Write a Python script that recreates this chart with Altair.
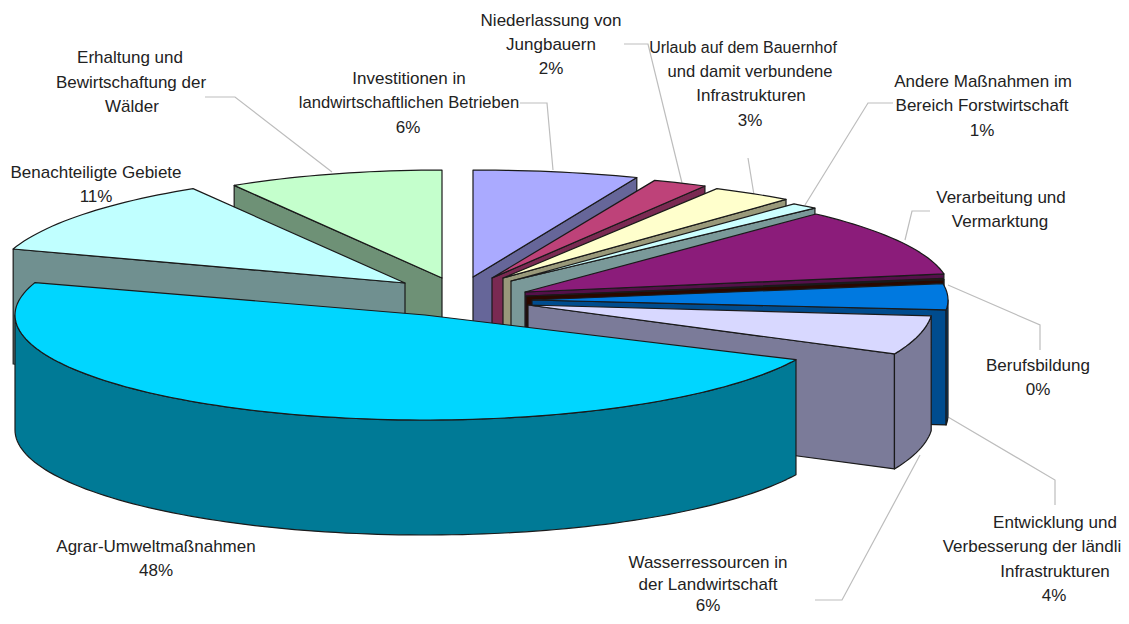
import math
import altair as alt
import pandas as pd

# ---- data ----
slices = ["Investitionen", "Niederlassung", "Urlaub", "Andere Forst", "Verarbeitung", "Berufsbildung",
          "Entwicklung", "Wasserressourcen", "Agrar-Umwelt", "Benachteiligte", "Erhaltung"]
values = [6, 2, 3, 1, 10.3, 0.2, 4, 5.5, 48, 11.4, 8.6]

top_colors = ["#AAAAFF", "#BE4279", "#FFFFCC", "#CCFFFF", "#8B1C7A", "#5A1208",
              "#0079E0", "#D8D8FF", "#00D6FF", "#C0FFFF", "#C4FFCC"]
side_colors = ["#666699", "#7A2A52", "#99997A", "#7A9999", "#54104A", "#2A0800",
               "#004C8E", "#7B7B99", "#007A96", "#709090", "#6E9176"]

label_lines = ["Niederlassung von", "Jungbauern", "2%",
               "Urlaub auf dem Bauernhof", "und damit verbundene", "Infrastrukturen", "3%",
               "Investitionen in", "landwirtschaftlichen Betrieben", "6%",
               "Erhaltung und", "Bewirtschaftung der", "Wälder",
               "Andere Maßnahmen im", "Bereich Forstwirtschaft", "1%",
               "Benachteiligte Gebiete", "11%",
               "Verarbeitung und", "Vermarktung",
               "Berufsbildung", "0%",
               "Entwicklung und", "Verbesserung der ländli", "Infrastrukturen", "4%",
               "Agrar-Umweltmaßnahmen", "48%",
               "Wasserressourcen in", "der Landwirtschaft", "6%"]

# ---- layout (page pixels) ----
OFFSET = 8
DEPTH = 115
apex_x = [473, 492, 503, 511, 525, 526, 532, 528, 425, 405, 442]
apex_y = [277, 278, 278, 281, 292, 296, 300, 305, 315, 283, 278]
radius_a = [445, 442, 444, 444, 425, 423, 416, 405, 410, 412, 404]
radius_b = [107, 105, 102, 100, 107, 105, 105, 115, 105, 110, 108]

label_x = [551, 551, 551,
           743, 750, 751, 750,
           409, 409, 408,
           130, 131, 132,
           983, 982, 982,
           96, 96,
           1001, 1000,
           1038, 1038,
           1055, 1032, 1055, 1054,
           156, 156,
           708, 708, 708]
label_y = [21, 45, 69,
           48, 72, 96, 121,
           79, 103, 128,
           58, 83, 107,
           82, 106, 131,
           173, 197,
           198, 222,
           366, 390,
           523, 547, 572, 596,
           547, 571,
           563, 585, 606]
label_size = [17, 17, 17,
              16, 16.6, 17, 17,
              17, 16.6, 17,
              17, 17, 17,
              17, 17, 17,
              17, 17,
              17, 17,
              17, 17,
              17, 17, 17, 17,
              17, 17,
              17, 17, 17]

leader_x = [[205, 235, 332], [520, 547, 553], [624, 648, 682], [748, 754],
            [893, 868, 805], [930, 912, 905], [948, 1040, 1040], [948, 1055, 1055],
            [920, 842, 815]]
leader_y = [[97, 97, 172], [103, 103, 170], [44, 44, 183], [158, 195],
            [103, 103, 205], [211, 211, 240], [285, 325, 350], [417, 480, 505],
            [455, 600, 600]]

# ---- geometry derived from the values ----
total = sum(values)


def rim(i, deg, dy=0):
    t = math.radians(deg)
    return [apex_x[i] + radius_a[i] * math.sin(t) - OFFSET,
            apex_y[i] - radius_b[i] * math.cos(t) + dy - OFFSET]


def arc(i, d0, d1, dy=0):
    n = max(2, int(abs(d1 - d0) / 1.5) + 2)
    return [rim(i, d0 + (d1 - d0) * k / (n - 1), dy) for k in range(n)]


def feature(ring, fill):
    return {"type": "Feature",
            "geometry": {"type": "Polygon", "coordinates": [ring + [ring[0]]]},
            "properties": {"fill": fill}}


angles = []
acc = 0
for v in values:
    angles.append((acc / total * 360, (acc + v) / total * 360))
    acc += v

# painter's order: back slices first, front slice last
draw_order = [10, 9, 0, 1, 2, 3, 4, 5, 6, 7, 8]
features = []
for i in draw_order:
    d0, d1 = angles[i]
    ax, ay = apex_x[i] - OFFSET, apex_y[i] - OFFSET
    side, top = side_colors[i], top_colors[i]
    for d, vis in ((d1, math.sin(math.radians(d1)) > 0), (d0, math.sin(math.radians(d0)) < 0)):
        if vis:
            features.append(feature([[ax, ay], rim(i, d), rim(i, d, DEPTH), [ax, ay + DEPTH]], side))
    w0, w1 = max(d0, 90), min(d1, 270)
    if w1 > w0:
        features.append(feature(arc(i, w0, w1) + arc(i, w1, w0, DEPTH), side))
    features.append(feature([[ax, ay]] + arc(i, d0, d1), top))

labels = pd.DataFrame({"t": label_lines,
                       "x": [v - OFFSET for v in label_x],
                       "y": [v - OFFSET for v in label_y],
                       "s": label_size})
leaders = pd.DataFrame([
    {"id": k, "i": j, "x": x - OFFSET, "y": y - OFFSET}
    for k, (xs, ys) in enumerate(zip(leader_x, leader_y))
    for j, (x, y) in enumerate(zip(xs, ys))
])

leader_layer = alt.Chart(leaders).mark_line(color="#BDBDBD", strokeWidth=1.2).encode(
    x=alt.X("x:Q", scale=None), y=alt.Y("y:Q", scale=None),
    detail="id:N", order="i:Q")

pie_layer = alt.Chart(alt.Data(values=features)).mark_geoshape(
    stroke="#1A1A1A", strokeWidth=1.2, strokeJoin="round"
).encode(color=alt.Color("properties.fill:N", scale=None)).project(
    type="identity", scale=1, translate=[0, 0])

text_layer = alt.Chart(labels).mark_text(
    font="Liberation Sans", color="#222222", align="center", baseline="middle"
).encode(x=alt.X("x:Q", scale=None), y=alt.Y("y:Q", scale=None), text="t:N",
         size=alt.Size("s:Q", scale=None))

chart = alt.layer(leader_layer, pie_layer, text_layer).properties(
    width=1113, height=608, padding=0, autosize=alt.AutoSizeParams(type="none"),
    background="white"
).configure_view(stroke=None)

chart.save("out.html", embed_options={"renderer": "svg", "actions": False})
